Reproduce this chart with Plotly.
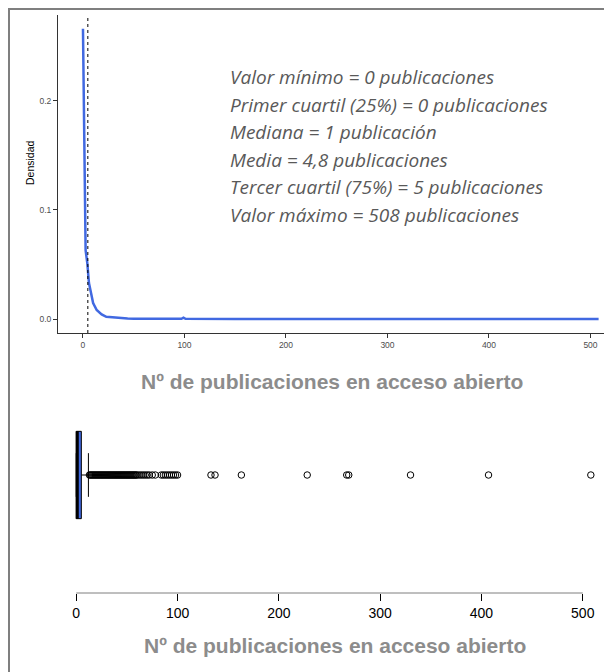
import plotly.graph_objects as go

# page body adds an 8px offset; figure is sized to the remaining window
OFF = 8
W, H = 612 - OFF, 672 - OFF

# ---------------- data ----------------
dens_x = [0, 0.5, 1.3, 2.0, 2.6, 4.3, 5.9, 7.9, 10, 13.5, 18.4, 23, 26, 28, 30, 36.5,
          40, 44, 50, 70, 97, 99, 101, 150, 250, 400, 508]
dens_y = [0.266, 0.213, 0.141, 0.106, 0.063, 0.051, 0.033, 0.024, 0.0147, 0.0083, 0.0043,
          0.0021, 0.0018, 0.0022, 0.0016, 0.0008, 0.0004, 0.0005, 0.0002, 0.0002, 0.0002,
          0.0012, 0.0002, 0.0001, 0.0001, 0.0001, 0.0001]
mean_val = 4.8

box_min = 0
box_q1 = 0
box_median = 1
box_q3 = 5
box_upper = 12
outliers = list(range(13, 61)) + [62, 64, 66, 68, 70, 72, 75, 78, 84, 86, 88, 90, 92, 94,
                                  96, 98, 100, 133, 137, 163, 228, 267, 269, 330, 407, 508]

stat_lines = [
    "Valor mínimo = 0 publicaciones",
    "Primer cuartil (25%) = 0 publicaciones",
    "Mediana = 1 publicación",
    "Media = 4,8 publicaciones",
    "Tercer cuartil (75%) = 5 publicaciones",
    "Valor máximo = 508 publicaciones",
]
x_ticks = [0, 100, 200, 300, 400, 500]
y_ticks = [0.0, 0.1, 0.2]
y_ticklabels = ["0.0", "0.1", "0.2"]
x_title = "Nº de publicaciones en acceso abierto"
y_title = "Densidad"

# ---------------- figure ----------------
def px_x(p):
    return (p - OFF) / W

def px_y(p):
    return 1 - (p - OFF) / H

fig = go.Figure()

fig.add_trace(go.Scatter(x=dens_x, y=dens_y, mode="lines",
                         line=dict(color="#4169E1", width=2.5),
                         xaxis="x", yaxis="y", showlegend=False, hoverinfo="skip"))

box_w = 0.37
fig.add_trace(go.Box(y=[1], q1=[box_q1], median=[box_median], q3=[box_q3],
                     lowerfence=[box_min], upperfence=[box_upper],
                     orientation="h", width=box_w, whiskerwidth=0.5,
                     fillcolor="#4169E1", line=dict(color="black", width=1),
                     boxpoints=False, xaxis="x2", yaxis="y2", showlegend=False))
fig.add_trace(go.Scatter(x=[box_median, box_median], y=[1 - box_w / 2, 1 + box_w / 2],
                         mode="lines", line=dict(color="black", width=3),
                         xaxis="x2", yaxis="y2", showlegend=False, hoverinfo="skip"))
fig.add_trace(go.Scatter(x=outliers, y=[1] * len(outliers), mode="markers",
                         marker=dict(symbol="circle-open", size=6.5, color="black",
                                     line=dict(width=1, color="black")),
                         xaxis="x2", yaxis="y2", showlegend=False))

axis_common = dict(showgrid=False, zeroline=False)

fig.update_layout(
    width=W, height=H,
    margin=dict(l=0, r=0, t=0, b=0),
    paper_bgcolor="white", plot_bgcolor="white",
    xaxis=dict(domain=[px_x(58), 1], range=[-24.6, 521.2], anchor="y",
               showline=True, linecolor="#333333", linewidth=1,
               ticks="outside", ticklen=4, tickcolor="#333333",
               tickvals=x_ticks, tickfont=dict(size=8.5, color="#4d4d4d",
                                               family="Liberation Sans, Arial"),
               **axis_common),
    yaxis=dict(domain=[px_y(333), px_y(15)], range=[-0.0128, 0.2786], anchor="x",
               showline=True, linecolor="#333333", linewidth=1,
               ticks="outside", ticklen=4, tickcolor="#333333",
               tickvals=y_ticks, ticktext=y_ticklabels,
               tickfont=dict(size=8.5, color="#4d4d4d", family="Liberation Sans, Arial"),
               **axis_common),
    xaxis2=dict(domain=[px_x(55.7), 1], range=[-20.3, 528.9], anchor="y2",
                showline=False, ticks="outside", ticklen=7, tickcolor="black",
                tickvals=x_ticks, tickfont=dict(size=14, color="black",
                                                family="Liberation Sans, Arial"),
                **axis_common),
    yaxis2=dict(domain=[px_y(593), px_y(357)], range=[0.5, 1.5], anchor="x2",
                visible=False, **axis_common),
)

shapes = [
    dict(type="line", xref="x", yref="y domain", x0=mean_val, x1=mean_val, y0=0, y1=1,
         line=dict(color="black", width=1, dash="3px,3px")),
    dict(type="line", xref="x2", yref="y2 domain", x0=x_ticks[0], x1=x_ticks[-1], y0=0, y1=0,
         line=dict(color="#7f7f7f", width=1)),
    dict(type="line", xref="paper", yref="paper", x0=px_x(9), x1=px_x(9), y0=0, y1=px_y(8),
         line=dict(color="#7f7f7f", width=2)),
    dict(type="line", xref="paper", yref="paper", x0=px_x(8), x1=1, y0=px_y(9), y1=px_y(9),
         line=dict(color="#7f7f7f", width=2)),
]
fig.update_layout(shapes=shapes)

annotations = []
for i, t in enumerate(stat_lines):
    annotations.append(dict(xref="paper", yref="paper", x=px_x(228), y=px_y(77 + 27.5 * i),
                            xanchor="left", yanchor="middle", showarrow=False,
                            text="<i>" + t + "</i>",
                            font=dict(family="Open Sans", size=19, color="#595959")))
annotations.append(dict(xref="paper", yref="paper", x=px_x(332), y=px_y(381),
                        xanchor="center", yanchor="middle", showarrow=False,
                        text="<b>" + x_title + "</b>",
                        font=dict(family="Liberation Sans, Arial", size=21, color="#8c8c8c")))
annotations.append(dict(xref="paper", yref="paper", x=px_x(335), y=px_y(645),
                        xanchor="center", yanchor="middle", showarrow=False,
                        text="<b>" + x_title + "</b>",
                        font=dict(family="Liberation Sans, Arial", size=21, color="#8c8c8c")))
annotations.append(dict(xref="paper", yref="paper", x=px_x(30), y=px_y(163),
                        xanchor="center", yanchor="middle", showarrow=False, textangle=-90,
                        text=y_title,
                        font=dict(family="Liberation Sans, Arial", size=10.5, color="black")))
fig.update_layout(annotations=annotations)

fig.write_html("out.html")
